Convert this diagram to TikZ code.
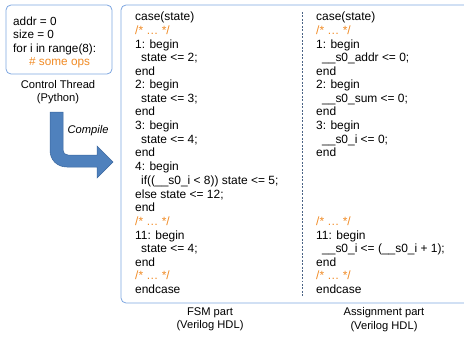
\documentclass[tikz,border=0pt]{standalone}
\usepackage{fontspec}
\setmainfont{Liberation Sans}
\definecolor{boxblue}{HTML}{7EA6E0}
\definecolor{codeor}{HTML}{F08A24}
\definecolor{arrfill}{HTML}{4F81BD}
\definecolor{arrdraw}{HTML}{3A679E}
\tikzset{
  code/.style={anchor=base west, inner sep=0pt, font=\fontsize{12}{13.6}\selectfont},
  lcode/.style={anchor=base west, inner sep=0pt, font=\fontsize{11.8}{13.5}\selectfont},
  cmt/.style={text=codeor},
  lbl/.style={align=center, inner sep=0pt, font=\fontsize{11.2}{13.5}\selectfont},
  panel/.style={draw=boxblue, line width=0.8pt, rounded corners=5pt},
}
\begin{document}
\begin{tikzpicture}[x=1bp,y=-1bp]
\useasboundingbox (0,0) rectangle (464,339);
\clip (0,0) rectangle (464,339);
% left box
\draw[panel] (6,5) rectangle (112,74);
\node[lcode] (l1) at (13,25) {addr = 0};
\node[lcode] (l2) at (13,38) {size = 0};
\node[lcode] (l3) at (13,52) {for i in range(8):};
\node[lcode,cmt] (l4) at (29,65.5) {\# some ops};
\node[lbl] (ct) at (58,92) {Control Thread\\(Python)};
% bent arrow
\filldraw[fill=arrfill, draw=arrdraw, line width=0.5pt]
  (50,112) -- (50,150) .. controls (50,160) and (57,167) .. (67,167)
  -- (97,167) -- (97,178) -- (113,162) -- (97,146) -- (97,155)
  -- (68,155) .. controls (65,155) and (63,153) .. (63,150) -- (63,112) -- cycle;
\node[inner sep=0pt, font=\fontsize{11.2}{13}\selectfont\itshape] (cmp) at (88,131) {Compile};
% right box
\draw[panel] (121,5) rectangle (490,303);
\coordinate (dtop) at (302,12);
\coordinate (dbot) at (302,296);
\draw[boxblue!60!black, dashed, dash pattern=on 2pt off 1.5pt, line width=0.6pt] (dtop) -- (dbot);
% FSM column
\def\yb{4.5}
\node[code] (f1) at (135,16+\yb) {case(state)};
\node[code,cmt] (f2) at (135,30+\yb) {/* … */};
\node[code] (f3) at (135,44+\yb) {1: begin};
\node[code] (f4) at (141,57+\yb) {state <= 2;};
\node[code] (f5) at (135,71+\yb) {end};
\node[code] (f6) at (135,84+\yb) {2: begin};
\node[code] (f7) at (141,98+\yb) {state <= 3;};
\node[code] (f8) at (135,111+\yb) {end};
\node[code] (f9) at (135,125+\yb) {3: begin};
\node[code] (f10) at (141,139+\yb) {state <= 4;};
\node[code] (f11) at (135,152+\yb) {end};
\node[code] (f12) at (135,166+\yb) {4: begin};
\node[code] (f13) at (141,180+\yb) {if((\_\_s0\_i < 8)) state <= 5;};
\node[code] (f14) at (135,194+\yb) {else state <= 12;};
\node[code] (f15) at (135,207+\yb) {end};
\node[code,cmt] (f16) at (135,221+\yb) {/* … */};
\node[code] (f17) at (135,235+\yb) {11: begin};
\node[code] (f18) at (141,248+\yb) {state <= 4;};
\node[code] (f19) at (135,262+\yb) {end};
\node[code,cmt] (f20) at (135,275+\yb) {/* … */};
\node[code] (f21) at (135,289+\yb) {endcase};
% Assignment column
\node[code] (a1) at (316,16+\yb) {case(state)};
\node[code,cmt] (a2) at (316,30+\yb) {/* … */};
\node[code] (a3) at (316,44+\yb) {1: begin};
\node[code] (a4) at (322,57+\yb) {\_\_s0\_addr <= 0;};
\node[code] (a5) at (316,71+\yb) {end};
\node[code] (a6) at (316,84+\yb) {2: begin};
\node[code] (a7) at (322,98+\yb) {\_\_s0\_sum <= 0;};
\node[code] (a8) at (316,111+\yb) {end};
\node[code] (a9) at (316,125+\yb) {3: begin};
\node[code] (a10) at (322,139+\yb) {\_\_s0\_i <= 0;};
\node[code] (a11) at (316,152+\yb) {end};
\node[code,cmt] (a12) at (316,221+\yb) {/* … */};
\node[code] (a13) at (316,235+\yb) {11: begin};
\node[code] (a14) at (322,248+\yb) {\_\_s0\_i <= (\_\_s0\_i + 1);};
\node[code] (a15) at (316,262+\yb) {end};
\node[code,cmt] (a16) at (316,275+\yb) {/* … */};
\node[code] (a17) at (316,289+\yb) {endcase};
% captions
\node[lbl] (fsm) at (210,319.5) {FSM part\\(Verilog HDL)};
\node[lbl] (asg) at (384,319.5) {Assignment part\\(Verilog HDL)};
\end{tikzpicture}
\end{document}
